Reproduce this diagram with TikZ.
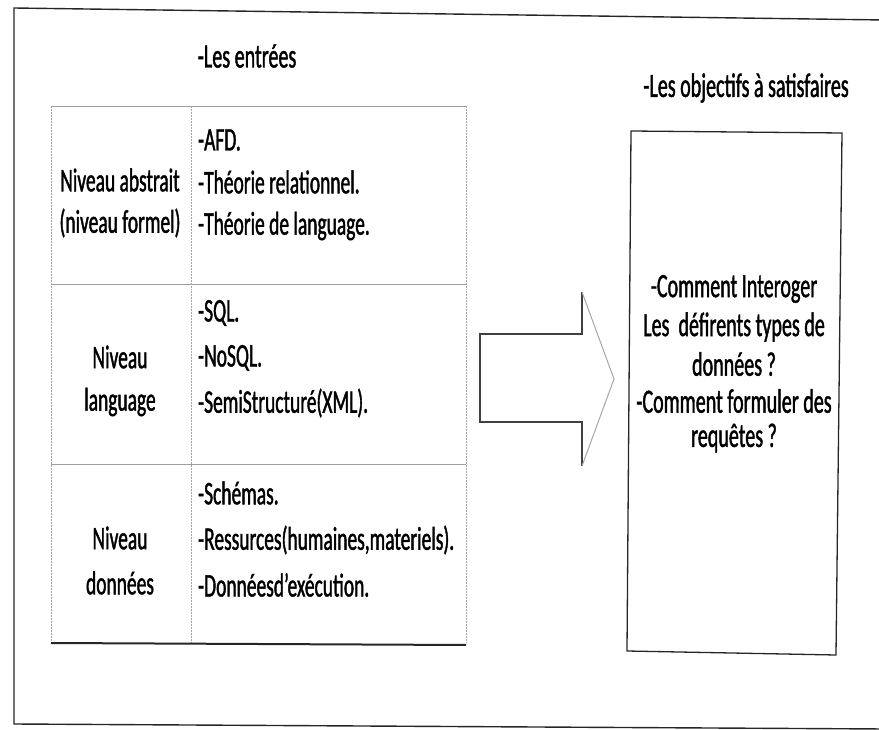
\documentclass[tikz,border=0pt]{standalone}
\usepackage{fontspec}
\setmainfont{Carlito}[FakeStretch=0.59,FakeBold=1.2]
\begin{document}
\begin{tikzpicture}[x=1pt,y=-1pt,
  txt/.style={inner sep=0pt,text=black,font=\fontsize{33}{38}\selectfont},
  ttl/.style={inner sep=0pt,text=black,font=\fontsize{34}{40}\selectfont},
  item/.style={txt,anchor=west},
  frameline/.style={line width=1.4pt,black!85},
  gridv/.style={line width=0.5pt,gray!70,densely dotted},
  gridh/.style={line width=0.8pt,gray!75},
  boxline/.style={line width=1.3pt,black!85}]
\useasboundingbox (0,0) rectangle (879,730);

% outer page frame, open on the right
\draw[frameline] (885,20) -- (14,8) -- (14,724) -- (885,729);

% titles
\node[ttl] (tin) at (247,56) {-Les entrées};
\node[ttl] (tout) at (746,88) {-Les objectifs à satisfaires};

% table of inputs
\draw[gridh] (51,106) -- (466,106);
\draw[gridh] (51,284) -- (466,284);
\draw[gridh] (51,464) -- (466,464);
\draw[gridv] (51,106) -- (51,643);
\draw[gridv] (191,106) -- (191,643);
\draw[gridv] (466,106) -- (466,643);
\draw[line width=2pt,black!85] (51,643) -- (466,645);

% row 1
\node[txt] (l1a) at (120,180) {Niveau abstrait};
\node[txt] (l1b) at (120,223) {(niveau formel)};
\node[item] (r1a) at (198,140) {-AFD.};
\node[item] (r1b) at (198,182) {-Théorie relationnel.};
\node[item] (r1c) at (198,226) {-Théorie de language.};

% row 2
\node[txt] (l2a) at (120,357) {Niveau};
\node[txt] (l2b) at (120,402) {language};
\node[item] (r2a) at (198,313) {-SQL.};
\node[item] (r2b) at (198,358) {-NoSQL.};
\node[item] (r2c) at (198,403) {-SemiStructuré(XML).};

% row 3
\node[txt] (l3a) at (120,538) {Niveau};
\node[txt] (l3b) at (120,583) {données};
\node[item] (r3a) at (198,493) {-Schémas.};
\node[item] (r3b) at (198,540) {-Ressurces(humaines,materiels).};
\node[item] (r3c) at (198,585) {-Donnéesd'exécution.};

% block arrow
\draw[line width=1.3pt,black!75,line join=miter]
  (582,292) -- (582,334) -- (480,334) -- (480,422) -- (582,422) -- (582,466);
\draw[line width=1pt,gray!70] (582,292) -- (614,379) -- (582,466);

% objectives box
\draw[boxline] (631,131) -- (842,133) -- (836,655) -- (627,651) -- cycle;
\node[ttl] (o1) at (734,289) {-Comment Interoger};
\node[ttl] (o2) at (734,327) {Les\ \ défirents types de};
\node[ttl] (o3) at (734,364) {données ?};
\node[ttl] (o4) at (734,401) {-Comment formuler des};
\node[ttl] (o5) at (734,438) {requêtes ?};
\end{tikzpicture}
\end{document}
